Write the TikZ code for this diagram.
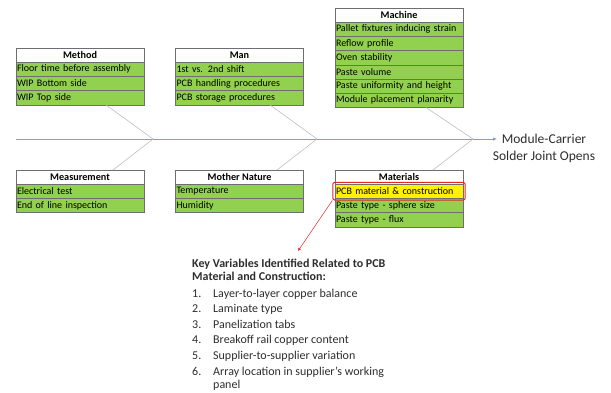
\documentclass[tikz,border=0pt]{standalone}
\usepackage{fontspec}
\setmainfont{Carlito}
\usetikzlibrary{positioning,fit,arrows.meta}
\definecolor{cellgreen}{RGB}{146,208,80}
\definecolor{cellline}{RGB}{110,110,110}
\definecolor{spineblue}{RGB}{118,163,212}
\definecolor{bonegray}{RGB}{190,190,190}
\definecolor{textgray}{RGB}{45,45,45}
\definecolor{callred}{RGB}{220,40,40}
\newcommand\keyno[1]{\makebox[21pt][l]{#1}}
\begin{document}
\begin{tikzpicture}[x=1pt,y=-1pt,
    hdr/.style={draw=cellline, fill=white, minimum width=128pt, minimum height=13.5pt,
      inner sep=0pt, anchor=north, font=\fontsize{10.2}{11}\selectfont\bfseries},
    cell/.style={draw=cellline, fill=cellgreen, text width=126pt, minimum height=14.2pt,
      inner xsep=1pt, inner ysep=0pt, align=left, anchor=north,
      font=\fontsize{10}{11}\selectfont},
    spine/.style={draw=spineblue, line width=0.8pt, -{Latex[length=4pt,width=3.5pt]}},
    bone/.style={draw=bonegray, line width=0.6pt},
    pcbframe/.style={draw=callred, line width=1pt, rounded corners=2pt, inner xsep=2pt, inner ysep=1.5pt},
    callout/.style={draw=callred, line width=0.5pt, -{Latex[length=3pt,width=3pt]}}]
  \useasboundingbox (0,0) rectangle (611,392);

  % Spine and the joints of the bones
  \coordinate (tail) at (16,139);
  \coordinate (head) at (497,139);
  \coordinate (j1) at (153,139);
  \coordinate (j2) at (317,139);
  \coordinate (j3) at (473,139);
  \draw [spine] (tail) -- (head);
  \node [font=\fontsize{13.5}{17}\selectfont, text=textgray, align=center] (effect) at (544,148)
    {Module-Carrier\\Solder Joint Opens};

  % Cause boxes above the spine
  \node [hdr] (method) at (80,48) {Method};
  \foreach \t [count=\i] in {{Floor time before assembly}, {WIP Bottom side}, {WIP Top side}} {
    \node [cell] (method\i) at ([yshift={-14.2pt*(\i-1)}]method.south) {\t};
  }
  \node [hdr] (man) at (239.5,48) {Man};
  \foreach \t [count=\i] in {{1st vs. 2nd shift}, {PCB handling procedures}, {PCB storage procedures}} {
    \node [cell] (man\i) at ([yshift={-14.2pt*(\i-1)}]man.south) {\t};
  }
  \node [hdr] (machine) at (399,8) {Machine};
  \foreach \t [count=\i] in {{Pallet fixtures inducing strain}, {Reflow profile}, {Oven stability},
      {Paste volume}, {Paste uniformity and height}, {Module placement planarity}} {
    \node [cell] (machine\i) at ([yshift={-14.2pt*(\i-1)}]machine.south) {\t};
  }

  % Cause boxes below the spine
  \node [hdr] (measurement) at (80,170) {Measurement};
  \foreach \t [count=\i] in {{Electrical test}, {End of line inspection}} {
    \node [cell] (measurement\i) at ([yshift={-14.2pt*(\i-1)}]measurement.south) {\t};
  }
  \node [hdr] (nature) at (239.5,170) {Mother Nature};
  \foreach \t [count=\i] in {{Temperature}, {Humidity}} {
    \node [cell] (nature\i) at ([yshift={-14.2pt*(\i-1)}]nature.south) {\t};
  }
  \node [hdr] (materials) at (399,170) {Materials};
  \foreach \t/\c [count=\i] in {{PCB material \& construction}/yellow,
      {Paste type - sphere size}/cellgreen, {Paste type - flux}/cellgreen} {
    \node [cell, fill=\c] (materials\i) at ([yshift={-14.2pt*(\i-1)}]materials.south) {\t};
  }

  % Bones
  \draw [bone] ([xshift=26pt]method3.south) -- (j1);
  \draw [bone] ([xshift=30.5pt]man3.south) -- (j2);
  \draw [bone] ([xshift=27pt]machine6.south) -- (j3);
  \draw [bone] ([xshift=33pt]measurement.north) -- (j1);
  \draw [bone] ([xshift=37.5pt]nature.north) -- (j2);
  \draw [bone] ([xshift=34pt]materials.north) -- (j3);

  % Highlighted cause and its call-out
  \node [pcbframe, fit=(materials1)] (pcbmark) {};
  \coordinate (keytip) at (298,251);
  \draw [callout] (pcbmark.south west) -- (keytip);
  \node [anchor=north west, inner sep=0pt, align=left, text=textgray,
    font=\fontsize{12}{13}\selectfont] (keyvars) at (192,259)
    {\textbf{Key Variables Identified Related to PCB}\\
     \textbf{Material and Construction:}\\[3.5pt]
     \keyno{1.}Layer-to-layer copper balance\\[2.6pt]
     \keyno{2.}Laminate type\\[2.6pt]
     \keyno{3.}Panelization tabs\\[2.6pt]
     \keyno{4.}Breakoff rail copper content\\[2.6pt]
     \keyno{5.}Supplier-to-supplier variation\\[2.6pt]
     \keyno{6.}Array location in supplier's working\\
     \keyno{}panel};
\end{tikzpicture}
\end{document}
